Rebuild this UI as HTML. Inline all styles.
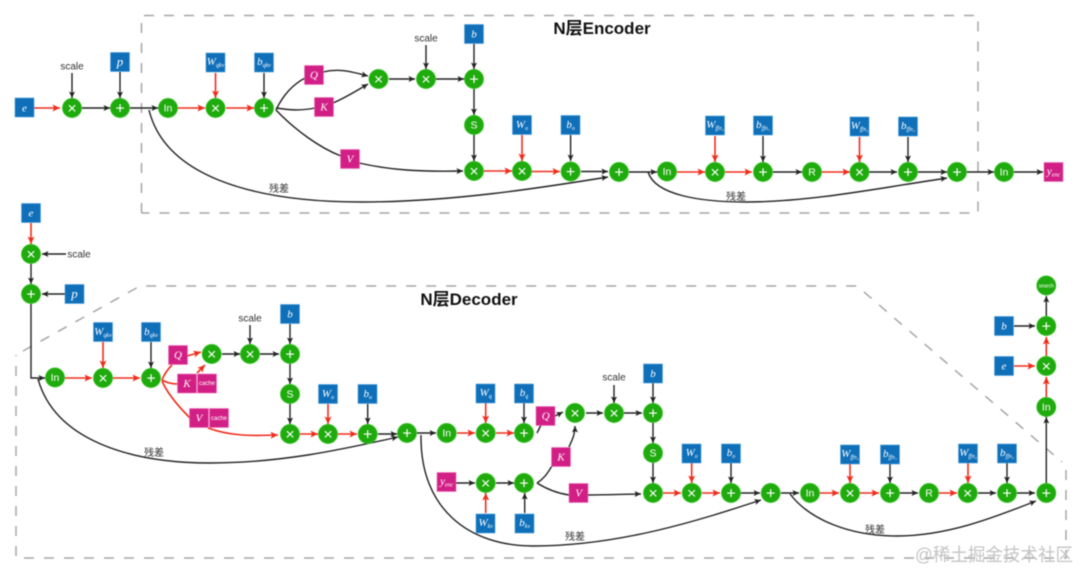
<!DOCTYPE html>
<html><head><meta charset="utf-8"><style>
html,body{margin:0;padding:0;background:#fff}
svg{display:block;filter:blur(.5px)}
text{font-family:"Liberation Sans","Noto Sans CJK SC",sans-serif}
.n circle{fill:#1fab0d;stroke:#43c832;stroke-width:.7}
.n text{fill:#fff;text-anchor:middle;font-size:10.5px}
.o{font-size:16px!important}
.b rect{fill:#0f6fb9;stroke:#4a9fdc;stroke-width:.6}
.m rect{fill:#d21f86;stroke:#ee70b8;stroke-width:.6}
.b text,.m text{fill:#fff;text-anchor:middle;font-family:"Liberation Serif",serif;font-style:italic;font-size:11px}
.s{font-size:6px}
.c{font-family:"Liberation Sans",sans-serif!important;font-style:normal!important;font-size:6px!important}
.k{stroke:#222;stroke-width:1.4;fill:none}
.r{stroke:#ee2d1c;stroke-width:1.6;fill:none}
.l{fill:#333;font-size:10px;text-anchor:middle}
.z{fill:#333;font-size:10px;text-anchor:middle}
.t{fill:#111;font-size:17px;font-weight:bold;text-anchor:middle}
</style></head><body>
<svg width="1080" height="572" viewBox="0 0 1080 572" xmlns="http://www.w3.org/2000/svg">
<defs>
<marker id="ak" markerUnits="userSpaceOnUse" markerWidth="7" markerHeight="6" refX="6.5" refY="3" orient="auto"><path d="M0,0 L6.5,3 L0,6 L1.5,3z" fill="#222"/></marker>
<marker id="ar" markerUnits="userSpaceOnUse" markerWidth="8" markerHeight="7" refX="7.5" refY="3.5" orient="auto"><path d="M0,0 L7.5,3.5 L0,7 L1.7,3.5z" fill="#ee2d1c"/></marker>
</defs>
<rect width="1080" height="572" fill="#fff"/>

<!-- dashed containers -->
<g fill="none" stroke="#a6a6a6" stroke-width="1.5" stroke-dasharray="10 10">
<path d="M141.5,213 V15.5 H978 V213 H141.5"/>
<path d="M23,351 L140,286 H857 L1062,462 M1066,470 V558 H16 V355"/>
</g>

<!-- black plain segments -->
<g class="k">
<path d="M276,110 C283,95 292,85 305,78"/>
<path d="M276,108 C290,110 300,111 315,108"/>
<path d="M276,110 C295,130 320,148 341,156"/>
<path d="M537,433 L541,425"/>
<path d="M537,483 C545,478 548,472 552,466"/>
<path d="M537,483 C545,488 555,493 569,495"/>
</g>
<!-- red plain segments -->
<g class="r">
<path d="M162,380 C165,372 170,367 172,365"/>
<path d="M162,380 C166,382 170,384 178,384"/>
<path d="M162,381 C168,395 180,408 190,418"/>
</g>

<!-- black arrows -->
<g class="k" marker-end="url(#ak)">
<path d="M82,108H110"/><path d="M130,108H158"/><path d="M72,73V98"/><path d="M120,72V98"/><path d="M264,73V98"/>
<path d="M389,79H415"/><path d="M436,79H464"/><path d="M426,45V69"/><path d="M474,44V69"/><path d="M474,89V115"/><path d="M474,135V161"/>
<path d="M570.6,135V161"/><path d="M581,171.5H608"/><path d="M629,172H657"/>
<path d="M763,136V162"/><path d="M773,172H802"/><path d="M869,172H897"/><path d="M908,137V162"/><path d="M918,172H947"/><path d="M967,172H994"/><path d="M1014,172H1043"/>
<path d="M323,72 C340,68 352,72 368,76"/>
<path d="M333,103 C345,98 358,90 368,84"/>
<path d="M359,163 C390,170 420,172 463,171"/>
<path d="M149,110 C165,175 250,202 362,202 C450,202 540,188 608,177"/>
<path d="M648,172 C655,195 700,202 746,202 C810,202 880,188 947,178"/>

<path d="M66,254H42"/><path d="M31,264V284"/><path d="M65,294H42"/><path d="M31,304V378H45"/>
<path d="M151,342V368"/><path d="M222,354H240"/><path d="M260,354H279"/><path d="M250,325V344"/><path d="M290,324V344"/><path d="M290,364V384"/><path d="M290,404V424"/>
<path d="M367.7,404V424"/><path d="M378,434H397"/><path d="M417,433H436"/><path d="M524,403V423"/>
<path d="M586,413H603"/><path d="M624,413H642"/><path d="M614,385V403"/><path d="M653,383V403"/><path d="M653,423V443"/><path d="M653,463V483"/>
<path d="M731,463V483"/><path d="M741,493H760"/><path d="M781,493H799"/><path d="M890,464V483"/><path d="M900,493H918"/><path d="M1007,463V483"/><path d="M978,493H996"/><path d="M1017,493H1035"/>
<path d="M1046.3,483V417"/><path d="M1046.3,316V296"/><path d="M1014,326H1035"/>
<path d="M456,483H475"/><path d="M496,483H514"/><path d="M524.7,513V493"/>
<path d="M555,416L563,412"/>
<path d="M569,447 C572,440 575,435 575,426"/>
<path d="M588,495 C610,495 625,494 641,494"/>
<path d="M38,379 C55,440 130,463 210,463 C280,463 340,450 398,437"/>
<path d="M421,435 C420,510 470,546 533,546 C620,546 700,520 761,500"/>
<path d="M790,494 C810,520 850,536 897,536 C950,536 1000,515 1036,501"/>
</g>

<!-- red arrows -->
<g class="r" marker-end="url(#ar)">
<path d="M34,108H60"/><path d="M178,108H205"/><path d="M226,108H254"/><path d="M215.5,73V98"/>
<path d="M484,171H512"/><path d="M522,135V161"/><path d="M532,171.5H560"/>
<path d="M677,172H705"/><path d="M725,172H752"/><path d="M715,136V162"/><path d="M822,172H850"/><path d="M859.5,137V162"/>
<path d="M31,223V244"/><path d="M65,378H92"/><path d="M113,378H140"/><path d="M103,342V368"/>
<path d="M300,434H318"/><path d="M328,404V424"/><path d="M338,434H357"/>
<path d="M457,433H475"/><path d="M496,433H514"/><path d="M485.7,403V423"/>
<path d="M663,493H681"/><path d="M691.7,463V483"/><path d="M702,493H720"/>
<path d="M820,493H839"/><path d="M860,493H879"/><path d="M850,464V483"/><path d="M939,493H957"/><path d="M968,463V483"/>
<path d="M1046.3,397V377"/><path d="M1046.3,356V337"/><path d="M1014,366H1035"/>
<path d="M485.7,513V493"/>
<path d="M187,356L201,352"/>
<path d="M197,373L205,365"/>
<path d="M208,428 C230,436 250,436 278,435"/>
</g>

<!-- green nodes -->
<g class="n">
<circle cx="72" cy="108" r="9.6"/><text class="o" x="72" y="113.5">×</text>
<circle cx="120" cy="108" r="9.6"/><text class="o" x="120" y="113.5">+</text>
<circle cx="168" cy="108" r="9.6"/><text x="168" y="111.5">In</text>
<circle cx="215.5" cy="108" r="9.6"/><text class="o" x="215.5" y="113.5">×</text>
<circle cx="264" cy="108" r="9.6"/><text class="o" x="264" y="113.5">+</text>
<circle cx="378.5" cy="79" r="9.6"/><text class="o" x="378.5" y="84.5">×</text>
<circle cx="426" cy="79" r="9.6"/><text class="o" x="426" y="84.5">×</text>
<circle cx="474" cy="79" r="9.6"/><text class="o" x="474" y="84.5">+</text>
<circle cx="474" cy="125" r="9.6"/><text x="474" y="128.5">S</text>
<circle cx="474" cy="171" r="9.6"/><text class="o" x="474" y="176.5">×</text>
<circle cx="522" cy="171" r="9.6"/><text class="o" x="522" y="176.5">×</text>
<circle cx="570.6" cy="171.5" r="9.6"/><text class="o" x="570.6" y="177">+</text>
<circle cx="619" cy="172" r="9.6"/><text class="o" x="619" y="177.5">+</text>
<circle cx="667" cy="171.5" r="9.6"/><text x="667" y="175">In</text>
<circle cx="715" cy="172" r="9.6"/><text class="o" x="715" y="177.5">×</text>
<circle cx="763" cy="172" r="9.6"/><text class="o" x="763" y="177.5">+</text>
<circle cx="812" cy="172" r="9.6"/><text x="812" y="175.5">R</text>
<circle cx="859.5" cy="172" r="9.6"/><text class="o" x="859.5" y="177.5">×</text>
<circle cx="908" cy="172" r="9.6"/><text class="o" x="908" y="177.5">+</text>
<circle cx="957" cy="172" r="9.6"/><text class="o" x="957" y="177.5">+</text>
<circle cx="1004" cy="172" r="9.6"/><text x="1004" y="175.5">In</text>

<circle cx="31" cy="254" r="9.6"/><text class="o" x="31" y="259.5">×</text>
<circle cx="31" cy="294" r="9.6"/><text class="o" x="31" y="299.5">+</text>
<circle cx="55" cy="377.5" r="9.6"/><text x="55" y="381">In</text>
<circle cx="103" cy="378" r="9.6"/><text class="o" x="103" y="383.5">×</text>
<circle cx="151" cy="378" r="9.6"/><text class="o" x="151" y="383.5">+</text>
<circle cx="211.7" cy="354" r="9.6"/><text class="o" x="211.7" y="359.5">×</text>
<circle cx="250" cy="354" r="9.6"/><text class="o" x="250" y="359.5">×</text>
<circle cx="290" cy="354" r="9.6"/><text class="o" x="290" y="359.5">+</text>
<circle cx="290" cy="394" r="9.6"/><text x="290" y="397.5">S</text>
<circle cx="290" cy="434" r="9.6"/><text class="o" x="290" y="439.5">×</text>
<circle cx="328" cy="434" r="9.6"/><text class="o" x="328" y="439.5">×</text>
<circle cx="367.7" cy="434" r="9.6"/><text class="o" x="367.7" y="439.5">+</text>
<circle cx="407" cy="433" r="9.6"/><text class="o" x="407" y="438.5">+</text>
<circle cx="446.7" cy="433" r="9.6"/><text x="446.7" y="436.5">In</text>
<circle cx="485.7" cy="433" r="9.6"/><text class="o" x="485.7" y="438.5">×</text>
<circle cx="524" cy="433" r="9.6"/><text class="o" x="524" y="438.5">+</text>
<circle cx="575" cy="413" r="9.6"/><text class="o" x="575" y="418.5">×</text>
<circle cx="614" cy="413" r="9.6"/><text class="o" x="614" y="418.5">×</text>
<circle cx="653" cy="413" r="9.6"/><text class="o" x="653" y="418.5">+</text>
<circle cx="653" cy="453" r="9.6"/><text x="653" y="456.5">S</text>
<circle cx="653" cy="493" r="9.6"/><text class="o" x="653" y="498.5">×</text>
<circle cx="691.7" cy="493" r="9.6"/><text class="o" x="691.7" y="498.5">×</text>
<circle cx="731" cy="493" r="9.6"/><text class="o" x="731" y="498.5">+</text>
<circle cx="770.7" cy="493" r="9.6"/><text class="o" x="770.7" y="498.5">+</text>
<circle cx="810" cy="493" r="9.6"/><text x="810" y="496.5">In</text>
<circle cx="850" cy="493" r="9.6"/><text class="o" x="850" y="498.5">×</text>
<circle cx="890" cy="493" r="9.6"/><text class="o" x="890" y="498.5">+</text>
<circle cx="929" cy="493" r="9.6"/><text x="929" y="496.5">R</text>
<circle cx="967.7" cy="493" r="9.6"/><text class="o" x="967.7" y="498.5">×</text>
<circle cx="1007" cy="493" r="9.6"/><text class="o" x="1007" y="498.5">+</text>
<circle cx="1046.3" cy="493" r="9.6"/><text class="o" x="1046.3" y="498.5">+</text>
<circle cx="485.7" cy="483" r="9.6"/><text class="o" x="485.7" y="488.5">×</text>
<circle cx="524" cy="483" r="9.6"/><text class="o" x="524" y="488.5">+</text>
<circle cx="1046.3" cy="407" r="9.6"/><text x="1046.3" y="410.5">In</text>
<circle cx="1046.3" cy="366" r="9.6"/><text class="o" x="1046.3" y="371.5">×</text>
<circle cx="1046.3" cy="326" r="9.6"/><text class="o" x="1046.3" y="331.5">+</text>
<circle cx="1046.3" cy="285.5" r="9.6"/><text x="1046.3" y="287.3" style="font-size:5px">search</text>
</g>

<!-- blue boxes -->
<g class="b">
<rect x="15" y="98" width="19" height="19"/><text x="24.5" y="111.5">e</text>
<rect x="110.5" y="52.5" width="19" height="19"/><text x="120" y="66" style="font-size:13px">p</text>
<rect x="206" y="53" width="19" height="19"/><text x="215.5" y="65">W<tspan class="s" dy="2">qkv</tspan></text>
<rect x="254.5" y="53" width="19" height="19"/><text x="264" y="65">b<tspan class="s" dy="2">qkv</tspan></text>
<rect x="464.5" y="24.5" width="19" height="19"/><text x="474" y="37.5">b</text>
<rect x="512.5" y="115.5" width="19" height="19"/><text x="522" y="128">W<tspan class="s" dy="2">o</tspan></text>
<rect x="561" y="115.5" width="19" height="19"/><text x="570.6" y="128">b<tspan class="s" dy="2">o</tspan></text>
<rect x="705.5" y="116" width="19" height="19"/><text x="715" y="128">W<tspan class="s" dy="2">ffn₁</tspan></text>
<rect x="753.5" y="116" width="19" height="19"/><text x="763" y="128">b<tspan class="s" dy="2">ffn₁</tspan></text>
<rect x="850" y="117" width="19" height="19"/><text x="859.5" y="129">W<tspan class="s" dy="2">ffn₂</tspan></text>
<rect x="898.5" y="117" width="19" height="19"/><text x="908" y="129">b<tspan class="s" dy="2">ffn₂</tspan></text>

<rect x="21.5" y="203.5" width="19" height="19"/><text x="31" y="216.5">e</text>
<rect x="65" y="284.5" width="19" height="19"/><text x="74.5" y="298" style="font-size:13px">p</text>
<rect x="93.5" y="322.5" width="19" height="19"/><text x="103" y="335">W<tspan class="s" dy="2">qkv</tspan></text>
<rect x="141.5" y="322.5" width="19" height="19"/><text x="151" y="335">b<tspan class="s" dy="2">qkv</tspan></text>
<rect x="280.5" y="304.5" width="19" height="19"/><text x="290" y="317.5">b</text>
<rect x="318.5" y="384.5" width="19" height="19"/><text x="328" y="397">W<tspan class="s" dy="2">o</tspan></text>
<rect x="358" y="384.5" width="19" height="19"/><text x="367.7" y="397">b<tspan class="s" dy="2">o</tspan></text>
<rect x="476" y="384" width="19" height="19"/><text x="485.7" y="396">W<tspan class="s" dy="2">q</tspan></text>
<rect x="514.5" y="384" width="19" height="19"/><text x="524" y="396">b<tspan class="s" dy="2">q</tspan></text>
<rect x="643.5" y="364" width="19" height="19"/><text x="653" y="377">b</text>
<rect x="682" y="444" width="19" height="19"/><text x="691.7" y="456">W<tspan class="s" dy="2">o</tspan></text>
<rect x="721.5" y="444" width="19" height="19"/><text x="731" y="456">b<tspan class="s" dy="2">o</tspan></text>
<rect x="476" y="514" width="19" height="19"/><text x="485.7" y="526">W<tspan class="s" dy="2">kv</tspan></text>
<rect x="515" y="514" width="19" height="19"/><text x="524.7" y="526">b<tspan class="s" dy="2">kv</tspan></text>
<rect x="840.5" y="445" width="19" height="19"/><text x="850" y="457">W<tspan class="s" dy="2">ffn₁</tspan></text>
<rect x="880.5" y="445" width="19" height="19"/><text x="890" y="457">b<tspan class="s" dy="2">ffn₁</tspan></text>
<rect x="958.5" y="444" width="19" height="19"/><text x="968" y="456">W<tspan class="s" dy="2">ffn₂</tspan></text>
<rect x="997.5" y="444" width="19" height="19"/><text x="1007" y="456">b<tspan class="s" dy="2">ffn₂</tspan></text>
<rect x="994.5" y="316.5" width="19" height="19"/><text x="1004" y="329.5">b</text>
<rect x="994.5" y="356.5" width="19" height="19"/><text x="1004" y="369.5">e</text>
</g>

<!-- magenta boxes -->
<g class="m">
<rect x="304.5" y="65.5" width="19" height="19"/><text x="314" y="78.5">Q</text>
<rect x="314.5" y="97.5" width="19" height="19"/><text x="324" y="110.5">K</text>
<rect x="340.5" y="149.5" width="19" height="19"/><text x="350" y="162.5">V</text>
<rect x="1044" y="162.5" width="19" height="19"/><text x="1053.5" y="174.5">y<tspan class="s" dy="2">enc</tspan></text>
<rect x="168.5" y="345.5" width="19" height="19"/><text x="178" y="358.5">Q</text>
<rect x="177.5" y="374" width="19" height="19"/><text x="187" y="387">K</text>
<rect x="197.5" y="374" width="19" height="19"/><text class="c" x="207" y="385">cache</text>
<rect x="189.5" y="408.5" width="19" height="19"/><text x="199" y="421.5">V</text>
<rect x="209.5" y="408.5" width="19" height="19"/><text class="c" x="219" y="420">cache</text>
<rect x="536" y="406.5" width="19" height="19"/><text x="545.7" y="419.5">Q</text>
<rect x="437" y="472.5" width="19" height="19"/><text x="446.7" y="484.5">y<tspan class="s" dy="2">enc</tspan></text>
<rect x="551.5" y="447.5" width="19" height="19"/><text x="561" y="460.5">K</text>
<rect x="569" y="483.5" width="19" height="19"/><text x="578.7" y="496.5">V</text>
</g>

<!-- labels -->
<text class="l" x="72" y="69.5">scale</text>
<text class="l" x="426" y="41.5">scale</text>
<text class="l" x="79" y="257.5">scale</text>
<text class="l" x="250" y="321.5">scale</text>
<text class="l" x="614" y="380.5">scale</text>
<text class="z" x="279" y="192">残差</text>
<text class="z" x="736" y="200">残差</text>
<text class="z" x="154" y="456">残差</text>
<text class="z" x="575" y="540">残差</text>
<text class="z" x="875" y="533">残差</text>
<text class="t" x="602" y="34">N层Encoder</text>
<text class="t" x="469" y="305">N层Decoder</text>
<text x="915" y="561" textLength="158" lengthAdjust="spacingAndGlyphs" style="font-size:18px;fill:#c4c4c4">@稀土掘金技术社区</text>
</svg>
</body></html>
